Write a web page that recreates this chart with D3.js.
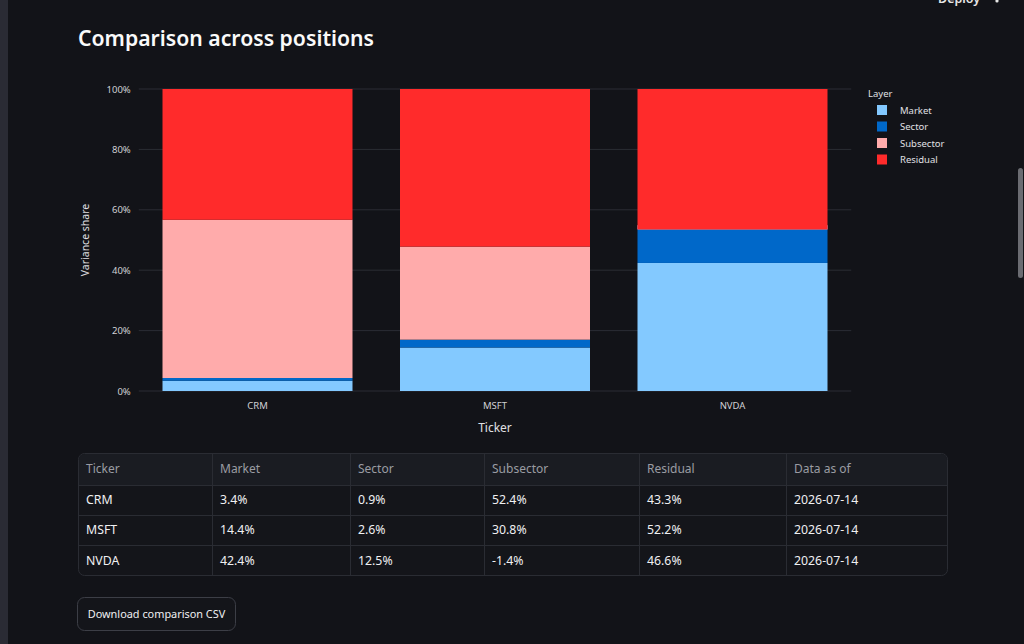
<!DOCTYPE html>
<html><head><meta charset="utf-8">
<script src="https://cdn.jsdelivr.net/npm/d3@7"></script>
<style>
html,body{margin:0;padding:0;background:#121318;overflow:hidden;}
svg{display:block;}
</style></head>
<body>
<svg id="c" width="1024" height="644"></svg>
<script>
const tickers = ["CRM", "MSFT", "NVDA"];
const layers = ["Market", "Sector", "Subsector", "Residual"];
const market = [3.4, 14.4, 42.4];
const sector = [0.9, 2.6, 12.5];
const subsector = [52.4, 30.8, -1.4];
const residual = [43.3, 52.2, 46.6];
const asOf = ["2026-07-14", "2026-07-14", "2026-07-14"];
const yTicks = [0, 20, 40, 60, 80, 100];
const colors = ["#83c9ff", "#0068c9", "#ffabab", "#ff2b2b"];
const series = [market, sector, subsector, residual];

(function(){
const svg = d3.select("#c");
const font = "'Noto Sans', 'Open Sans', sans-serif";

// page chrome
svg.append("rect").attr("x",0).attr("y",0).attr("width",8).attr("height",644).attr("fill","#2a2b34");
svg.append("text").attr("x",938).attr("y",3).attr("fill","#e6e6e6").attr("font-family",font)
  .attr("font-size",12.5).attr("font-weight",600).text("Deploy");
svg.append("circle").attr("cx",997).attr("cy",1).attr("r",1.6).attr("fill","#e6e6e6");
svg.append("rect").attr("x",1018).attr("y",168).attr("width",5).attr("height",110).attr("rx",2.5).attr("fill","#6b6c72");

svg.append("text").attr("x",78).attr("y",46).attr("fill","#fafafa").attr("font-family",font)
  .attr("font-size",21.2).attr("font-weight",600).text("Comparison across positions");

// chart
const pLeft = 138.75, pRight = 851.25, pTop = 89, pBottom = 391;
const x = d3.scaleBand().domain(tickers).range([pLeft, pRight]).paddingInner(0.2).paddingOuter(0.1);
const y = d3.scaleLinear().domain([0, 100]).range([pBottom, pTop]);

const g = svg.append("g");
g.selectAll("line.grid").data(yTicks).enter().append("line")
  .attr("x1", pLeft).attr("x2", pRight).attr("y1", d=>y(d)).attr("y2", d=>y(d))
  .attr("stroke", "#2b2d34").attr("stroke-width", 1);

const yAxis = d3.axisLeft(y).tickValues(yTicks).tickFormat(d=>d+"%").tickSize(0).tickPadding(8);
const ya = g.append("g").attr("transform", `translate(${pLeft},0)`).call(yAxis);
ya.select(".domain").remove();
ya.selectAll("text").attr("fill","#d0d0d4").attr("font-family",font).attr("font-size",9.5);

const xAxis = d3.axisBottom(x).tickSize(0).tickPadding(11);
const xa = g.append("g").attr("transform", `translate(0,${pBottom})`).call(xAxis);
xa.select(".domain").remove();
xa.selectAll("text").attr("fill","#d0d0d4").attr("font-family",font).attr("font-size",9.5);

svg.append("clipPath").attr("id","plotclip").append("rect")
  .attr("x",pLeft).attr("y",pTop).attr("width",pRight-pLeft).attr("height",pBottom-pTop);

// stacked bars (stack mode: cumulative bases, drawn in order)
const bars = g.append("g").attr("clip-path","url(#plotclip)");
const base = tickers.map(()=>0);
series.forEach((vals, si) => {
  const rects = tickers.map((t, i) => {
    const b0 = base[i], b1 = base[i] + vals[i];
    base[i] = b1;
    return {t, lo: Math.min(b0,b1), hi: Math.max(b0,b1)};
  });
  bars.selectAll(null).data(rects).enter().append("rect")
    .attr("x", d=>x(d.t)).attr("width", x.bandwidth())
    .attr("y", d=>y(d.hi)).attr("height", d=>y(d.lo)-y(d.hi))
    .attr("fill", colors[si]);
});

svg.append("text").attr("x",495).attr("y",432).attr("text-anchor","middle").attr("fill","#e0e0e4")
  .attr("font-family",font).attr("font-size",12).text("Ticker");
svg.append("text").attr("transform","translate(89,240) rotate(-90)").attr("text-anchor","middle")
  .attr("fill","#e0e0e4").attr("font-family",font).attr("font-size",10.5).text("Variance share");

// legend
const lg = svg.append("g");
lg.append("text").attr("x",868).attr("y",97).attr("fill","#e0e0e4").attr("font-family",font)
  .attr("font-size",9.5).text("Layer");
layers.forEach((l, i) => {
  const yy = 110 + i*16.5;
  lg.append("rect").attr("x",877).attr("y",yy-5).attr("width",10).attr("height",10).attr("fill",colors[i]);
  lg.append("text").attr("x",900).attr("y",yy+3.5).attr("fill","#e0e0e4").attr("font-family",font)
    .attr("font-size",9.5).text(l);
});

// table
const cols = ["Ticker","Market","Sector","Subsector","Residual","Data as of"];
const colX = [78, 212, 350, 484, 639, 786, 948];
const rowY = [453, 485, 515, 545, 576];
const fmt = v => v.toFixed(1) + "%";
const rows = tickers.map((t,i)=>[t, fmt(market[i]), fmt(sector[i]), fmt(subsector[i]), fmt(residual[i]), asOf[i]]);
const tg = svg.append("g");
tg.append("rect").attr("x",78.5).attr("y",453.5).attr("width",869).attr("height",122).attr("rx",6)
  .attr("fill","#14151a").attr("stroke","#2a2c33");
tg.append("path").attr("d",`M79,485 V460 Q79,454 85,454 H941 Q947,454 947,460 V485 Z`).attr("fill","#1a1c22");
rowY.slice(1,-1).forEach(yy=>{
  tg.append("line").attr("x1",79).attr("x2",947).attr("y1",yy+0.5).attr("y2",yy+0.5).attr("stroke","#2a2c33");
});
colX.slice(1,-1).forEach(xx=>{
  tg.append("line").attr("x1",xx+0.5).attr("x2",xx+0.5).attr("y1",454).attr("y2",575).attr("stroke","#2a2c33");
});
cols.forEach((c,j)=>{
  tg.append("text").attr("x",colX[j]+8).attr("y",(rowY[0]+rowY[1])/2+4).attr("fill","#9a9ca3")
    .attr("font-family",font).attr("font-size",12).text(c);
});
rows.forEach((r,i)=>{
  r.forEach((v,j)=>{
    tg.append("text").attr("x",colX[j]+8).attr("y",(rowY[i+1]+rowY[i+2])/2+4).attr("fill","#f0f0f2")
      .attr("font-family",font).attr("font-size",12.3).text(v);
  });
});

// button
svg.append("rect").attr("x",77.5).attr("y",597.5).attr("width",158).attr("height",33).attr("rx",7)
  .attr("fill","#14151a").attr("stroke","#3c3e46");
svg.append("text").attr("x",156.5).attr("y",617.5).attr("text-anchor","middle").attr("fill","#f0f0f2")
  .attr("font-family",font).attr("font-size",10.9).text("Download comparison CSV");
})();
</script>
</body></html>
